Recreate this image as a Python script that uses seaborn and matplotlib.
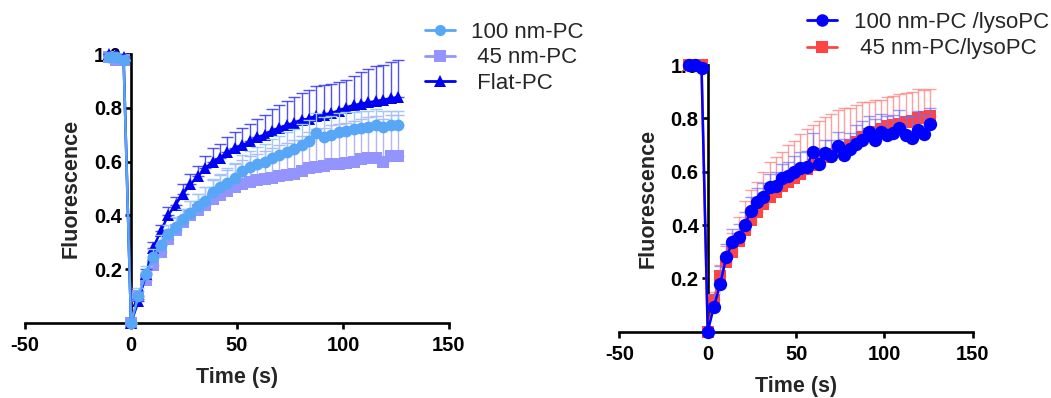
import numpy as np
import pandas as pd
import seaborn as sns
import matplotlib
matplotlib.use("Agg")
import matplotlib.pyplot as plt
from matplotlib.lines import Line2D

sns.set_style("ticks")
plt.rcParams['font.family'] = ['Liberation Sans', 'DejaVu Sans']

# ---------------- data ----------------
time_s = [-10.5, -7, -3.5, 0, 3.5, 7, 10.5, 14, 17.5, 21, 24.5, 28, 31.5, 35, 38.5,
          42, 45.5, 49, 52.5, 56, 59.5, 63, 66.5, 70, 73.5, 77, 80.5, 84, 87.5, 91,
          94.5, 98, 101.5, 105, 108.5, 112, 115.5, 119, 122.5, 126]

# left panel
pc100 = [0.99, 0.99, 0.98, 0.0,
         0.10, 0.18, 0.245, 0.29, 0.33, 0.355, 0.385, 0.41, 0.435, 0.455, 0.485, 0.505,
         0.52, 0.54, 0.565, 0.58, 0.59, 0.60, 0.615, 0.625, 0.635, 0.645, 0.66, 0.675,
         0.705, 0.69, 0.70, 0.71, 0.715, 0.72, 0.725, 0.73, 0.735, 0.73, 0.735, 0.735]
pc100_err = [0, 0, 0, 0,
             0.03, 0.03, 0.03, 0.035, 0.035, 0.04, 0.04, 0.045, 0.045, 0.05, 0.05, 0.05,
             0.055, 0.055, 0.06, 0.06, 0.065, 0.065, 0.07, 0.07, 0.075, 0.075, 0.08, 0.08,
             0.075, 0.075, 0.07, 0.07, 0.07, 0.065, 0.065, 0.06, 0.06, 0.06, 0.055, 0.055]
pc45 = [0.99, 0.98, 0.98, 0.0,
        0.10, 0.16, 0.215, 0.265, 0.31, 0.345, 0.375, 0.40, 0.42, 0.44, 0.46, 0.475,
        0.49, 0.505, 0.515, 0.525, 0.53, 0.535, 0.54, 0.545, 0.55, 0.555, 0.565, 0.575,
        0.58, 0.585, 0.59, 0.59, 0.595, 0.60, 0.61, 0.615, 0.615, 0.60, 0.62, 0.62]
pc45_err = [0, 0, 0, 0,
            0.02, 0.03, 0.03, 0.035, 0.04, 0.045, 0.05, 0.055, 0.06, 0.065, 0.07, 0.075,
            0.08, 0.085, 0.09, 0.095, 0.10, 0.105, 0.11, 0.115, 0.12, 0.125, 0.13, 0.135,
            0.14, 0.14, 0.145, 0.15, 0.15, 0.15, 0.15, 0.15, 0.155, 0.16, 0.155, 0.155]
flat = [1.0, 1.0, 0.99, 0.0,
        0.08, 0.18, 0.28, 0.34, 0.40, 0.44, 0.48, 0.515, 0.545, 0.575, 0.60, 0.615,
        0.635, 0.65, 0.66, 0.675, 0.69, 0.70, 0.715, 0.725, 0.735, 0.745, 0.755, 0.76,
        0.77, 0.775, 0.78, 0.79, 0.80, 0.81, 0.815, 0.82, 0.825, 0.83, 0.835, 0.84]
flat_err = [0, 0, 0, 0,
            0.01, 0.02, 0.02, 0.025, 0.03, 0.03, 0.035, 0.04, 0.04, 0.045, 0.05, 0.05,
            0.055, 0.06, 0.065, 0.065, 0.07, 0.075, 0.08, 0.085, 0.09, 0.095, 0.10, 0.105,
            0.11, 0.11, 0.11, 0.105, 0.105, 0.11, 0.12, 0.125, 0.13, 0.13, 0.135, 0.14]

# right panel
pc100_lyso = [1.0, 1.0, 0.99, 0.0,
              0.093, 0.177, 0.279, 0.336, 0.354, 0.399, 0.454, 0.488, 0.506, 0.541, 0.547,
              0.578, 0.585, 0.599, 0.615, 0.617, 0.675, 0.627, 0.669, 0.660, 0.698, 0.663,
              0.686, 0.704, 0.719, 0.748, 0.719, 0.747, 0.738, 0.744, 0.763, 0.736, 0.728,
              0.756, 0.741, 0.778]
pc100_lyso_err = [0, 0, 0, 0,
                  0.05, 0.07, 0.05, 0.05, 0.05, 0.05, 0.05, 0.05, 0.05, 0.05, 0.05, 0.05,
                  0.05, 0.06, 0.06, 0.06, 0.07, 0.06, 0.05, 0.06, 0.05, 0.06, 0.06, 0.07,
                  0.07, 0.06, 0.08, 0.07, 0.07, 0.07, 0.07, 0.07, 0.08, 0.07, 0.07, 0.06]
pc45_lyso = [1.0, 1.0, 1.0, 0.0,
             0.12, 0.21, 0.26, 0.30, 0.34, 0.38, 0.42, 0.45, 0.48, 0.505, 0.525, 0.545,
             0.56, 0.575, 0.59, 0.61, 0.625, 0.64, 0.655, 0.665, 0.68, 0.69, 0.70, 0.71,
             0.73, 0.74, 0.75, 0.76, 0.77, 0.775, 0.78, 0.785, 0.79, 0.80, 0.805, 0.81]
pc45_lyso_err = [0, 0, 0, 0,
                 0.03, 0.04, 0.06, 0.07, 0.09, 0.11, 0.11, 0.11, 0.12, 0.13, 0.13, 0.13,
                 0.14, 0.14, 0.15, 0.15, 0.15, 0.15, 0.15, 0.15, 0.15, 0.15, 0.14, 0.14,
                 0.13, 0.12, 0.12, 0.11, 0.11, 0.11, 0.11, 0.11, 0.11, 0.11, 0.10, 0.10]

left_labels = ["100 nm-PC", " 45 nm-PC", " Flat-PC"]
right_labels = ["100 nm-PC /lysoPC", " 45 nm-PC/lysoPC"]
x_ticks = [-50, 0, 50, 100, 150]
y_ticks = [0.2, 0.4, 0.6, 0.8, 1.0]

# ---------------- styling ----------------
C100 = '#57A7F6'
C45 = '#9494FF'
CFLAT = '#0000F2'
CBLUE = '#0000FF'
CRED = '#FF4444'

fig = plt.figure(figsize=(10.51, 3.98), dpi=100)
axL = fig.add_axes([0.0238, 0.189, 0.4034, 0.675])
axR = fig.add_axes([0.5893, 0.1666, 0.3363, 0.670])

TICKFONT = dict(fontsize=14.5, fontweight='bold')
LABELFONT = dict(fontsize=15.5, fontweight='bold')


def style_axis(ax):
    ax.set_xlim(-50, 150)
    ax.set_ylim(0, 1.0)
    for s in ['top', 'right']:
        ax.spines[s].set_visible(False)
    ax.spines['left'].set_position(('data', 0))
    for s in ['left', 'bottom']:
        ax.spines[s].set_linewidth(1.9)
        ax.spines[s].set_color('black')
    ax.set_xticks(x_ticks)
    ax.set_xticklabels([str(v) for v in x_ticks], **TICKFONT)
    ax.set_yticks(y_ticks)
    ax.set_yticklabels([f"{v:.1f}" for v in y_ticks], **TICKFONT)
    ax.tick_params(axis='x', direction='out', length=4.5, width=1.9,
                   colors='black', pad=5)
    ax.tick_params(axis='y', direction='out', length=4.5, width=1.9,
                   colors='black', pad=2)
    ax.set_xlabel("Time (s)", labelpad=9, **LABELFONT)
    ax.set_ylabel("Fluorescence", labelpad=9, **LABELFONT)
    ax.grid(False)
    ax.set_facecolor('white')


def draw_series(ax, y, err, color, ecolor, marker, ms, z, ealpha=1.0):
    y = np.asarray(y)
    err = np.asarray(err)
    ax.errorbar(time_s, y, yerr=[np.zeros_like(err), err], fmt='none',
                ecolor=ecolor, elinewidth=1.0, capsize=4.5, capthick=1.0,
                alpha=ealpha, zorder=z - 0.5, clip_on=False)
    sns.lineplot(x=time_s, y=y, ax=ax, color=color, marker=marker,
                 markersize=ms, markeredgewidth=0, linewidth=1.8,
                 zorder=z, clip_on=False, legend=False, errorbar=None)


# left panel
draw_series(axL, pc45, pc45_err, C45, '#B4B4FF', 's', 8.3, 3)
draw_series(axL, flat, flat_err, CFLAT, '#3333FF', '^', 8.8, 4, ealpha=0.85)
draw_series(axL, pc100, pc100_err, C100, '#9CCBF8', 'o', 8.5, 5)
style_axis(axL)

# right panel
draw_series(axR, pc45_lyso, pc45_lyso_err, CRED, '#FF8080', 's', 9.2, 3, ealpha=0.75)
draw_series(axR, pc100_lyso, pc100_lyso_err, CBLUE, '#7070FF', 'o', 9.6, 4, ealpha=0.7)
style_axis(axR)

# legends
hL = [Line2D([], [], color=C100, marker='o', markersize=8, lw=2, markeredgewidth=0),
      Line2D([], [], color=C45, marker='s', markersize=8, lw=2, markeredgewidth=0),
      Line2D([], [], color=CFLAT, marker='^', markersize=8, lw=2, markeredgewidth=0)]
fig.legend(hL, left_labels, loc='upper left', bbox_to_anchor=(0.404, 0.945),
           frameon=False, fontsize=16, handlelength=1.35, handletextpad=0.75,
           labelspacing=0.2, borderpad=0, borderaxespad=0)

hR = [Line2D([], [], color=CBLUE, marker='o', markersize=9, lw=2, markeredgewidth=0),
      Line2D([], [], color=CRED, marker='s', markersize=9, lw=2, markeredgewidth=0)]
fig.legend(hR, right_labels, loc='upper left', bbox_to_anchor=(0.768, 0.97),
           frameon=False, fontsize=16, handlelength=1.35, handletextpad=0.75,
           labelspacing=0.25, borderpad=0, borderaxespad=0)

fig.savefig("out.png", dpi=100, facecolor='white')
